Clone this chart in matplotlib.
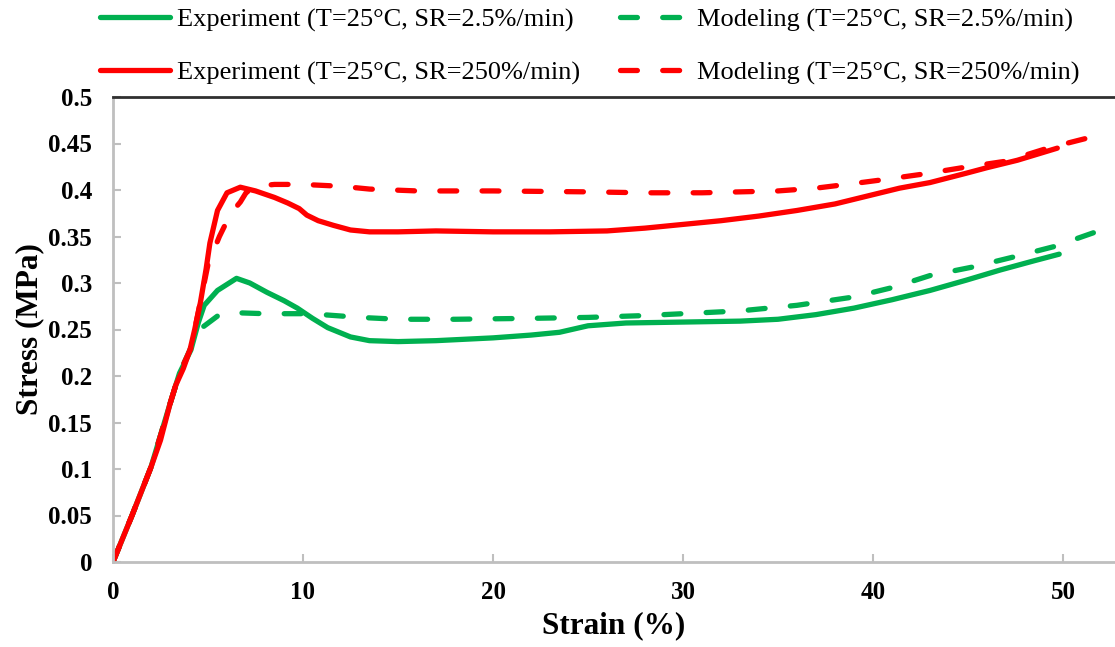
import matplotlib
matplotlib.use("Agg")
import matplotlib.pyplot as plt

# strain (%) / stress (MPa)
exp_slow_x = [0, 1, 2, 3, 3.5, 4.1, 4.5, 4.8, 5.5, 6.5, 7.2, 8.1, 9.0, 9.7, 10.5, 11.3,
              12.5, 13.5, 15, 17, 20, 22, 23.5, 25, 27, 30, 33, 35, 37, 39, 41, 43,
              44.9, 46.7, 48.5, 49.8]
exp_slow_y = [0, 0.05, 0.102, 0.17, 0.203, 0.228, 0.258, 0.276, 0.292, 0.305, 0.300, 0.290,
              0.281, 0.273, 0.262, 0.252, 0.242, 0.238, 0.237, 0.238, 0.241, 0.244, 0.247,
              0.254, 0.257, 0.258, 0.259, 0.261, 0.266, 0.273, 0.282, 0.292, 0.303, 0.314,
              0.324, 0.331]

exp_fast_x = [0, 1, 2, 2.5, 3, 3.3, 3.7, 4.05, 4.3, 4.6, 4.9, 5.1, 5.5, 6.0, 6.7, 7.5, 8.5,
              9.2, 9.8, 10.2, 10.8, 11.6, 12.5, 13.5, 15, 17, 20, 23, 26, 28, 30, 32, 34,
              36, 38, 40, 41.4, 43, 44.9, 46, 47.6, 49.7]
exp_fast_y = [0, 0.05, 0.102, 0.131, 0.17, 0.19, 0.208, 0.228, 0.25, 0.279, 0.315, 0.343,
              0.378, 0.397, 0.403, 0.399, 0.392, 0.386, 0.38, 0.373, 0.367, 0.362, 0.357,
              0.355, 0.355, 0.356, 0.355, 0.355, 0.356, 0.359, 0.363, 0.367, 0.372, 0.378,
              0.385, 0.395, 0.402, 0.408, 0.418, 0.424, 0.432, 0.445]

mod_slow_x = [0, 1, 2, 3, 3.5, 4.2, 4.75, 5.6, 6.5, 8, 10, 11, 13, 15, 18, 22, 25, 28, 30,
              33, 36, 39, 41, 43, 45.2, 47.4, 49.5, 51.6]
mod_slow_y = [0, 0.05, 0.102, 0.17, 0.203, 0.235, 0.253, 0.266, 0.268, 0.267, 0.267, 0.266,
              0.263, 0.261, 0.261, 0.262, 0.263, 0.265, 0.267, 0.270, 0.276, 0.285, 0.295,
              0.308, 0.317, 0.328, 0.339, 0.354]

mod_fast_x = [0, 1, 2, 3, 3.5, 4.1, 4.5, 5.0, 5.6, 6.2, 6.7, 7.0, 7.5, 8.5, 10, 12, 13.5,
              16, 20, 25, 28, 31, 33, 35, 37, 39, 40.5, 42.6, 44.7, 47, 49.2, 51.7]
mod_fast_y = [0, 0.05, 0.102, 0.17, 0.203, 0.23, 0.27, 0.32, 0.35, 0.375, 0.387, 0.397,
              0.404, 0.406, 0.406, 0.404, 0.401, 0.399, 0.399, 0.398, 0.397, 0.397, 0.398,
              0.399, 0.402, 0.407, 0.411, 0.417, 0.424, 0.431, 0.445, 0.458]

labels = [
    "Experiment (T=25°C, SR=2.5%/min)",
    "Experiment (T=25°C, SR=250%/min)",
    "Modeling (T=25°C, SR=2.5%/min)",
    "Modeling (T=25°C, SR=250%/min)",
]

GREEN = "#00b050"
RED = "#ff0000"

plt.rcParams["font.family"] = ["Liberation Serif", "DejaVu Serif"]

fig = plt.figure(figsize=(11.15, 6.47), dpi=100)
ax = fig.add_axes([113 / 1115, 1 - 562 / 647, 1 - 113 / 1115, (562 - 97) / 647])

lw = 3.8
dash = dict(linestyle=(0, (3.2, 4.8)), dash_capstyle="round")
l1, = ax.plot(exp_slow_x, exp_slow_y, color=GREEN, lw=lw, solid_capstyle="round")
l3, = ax.plot(mod_slow_x, mod_slow_y, color=GREEN, lw=lw, **dash)
l2, = ax.plot(exp_fast_x, exp_fast_y, color=RED, lw=lw, solid_capstyle="round")
l4, = ax.plot(mod_fast_x, mod_fast_y, color=RED, lw=lw, **dash)

ax.set_xlim(0, (1115 - 113) / 19)
ax.set_ylim(0, 0.5)
ax.set_xticks([0, 10, 20, 30, 40, 50])
ax.set_yticks([0, 0.05, 0.1, 0.15, 0.2, 0.25, 0.3, 0.35, 0.4, 0.45, 0.5])
ax.set_yticklabels(["0", "0.05", "0.1", "0.15", "0.2", "0.25", "0.3", "0.35", "0.4", "0.45", "0.5"])
ax.tick_params(direction="in", length=6, width=1.5, color="#bfbfbf", labelsize=18)
ax.tick_params(axis="y", pad=15)
ax.tick_params(axis="x", pad=14)
for t in ax.get_xticklabels() + ax.get_yticklabels():
    t.set_fontweight("bold")

ax.spines["left"].set_color("#bfbfbf")
ax.spines["bottom"].set_color("#bfbfbf")
ax.spines["left"].set_linewidth(2)
ax.spines["bottom"].set_linewidth(2)
ax.spines["top"].set_color("#303030")
ax.spines["top"].set_linewidth(2)
ax.spines["right"].set_visible(False)

ax.set_xlabel("Strain (%)", fontsize=22.5, fontweight="bold", labelpad=5)
ax.set_ylabel("Stress (MPa)", fontsize=22.5, fontweight="bold", labelpad=3)

fig.legend([l1, l2, l3, l4], labels, ncol=2, frameon=False, fontsize=19,
           loc="upper left", bbox_to_anchor=(100 / 1115, 1 - 8 / 647), handlelength=2.65,
           handletextpad=0.27, columnspacing=1.5, labelspacing=1.1, borderaxespad=0.0,
           borderpad=0.0)

fig.savefig("out.png", dpi=100)
